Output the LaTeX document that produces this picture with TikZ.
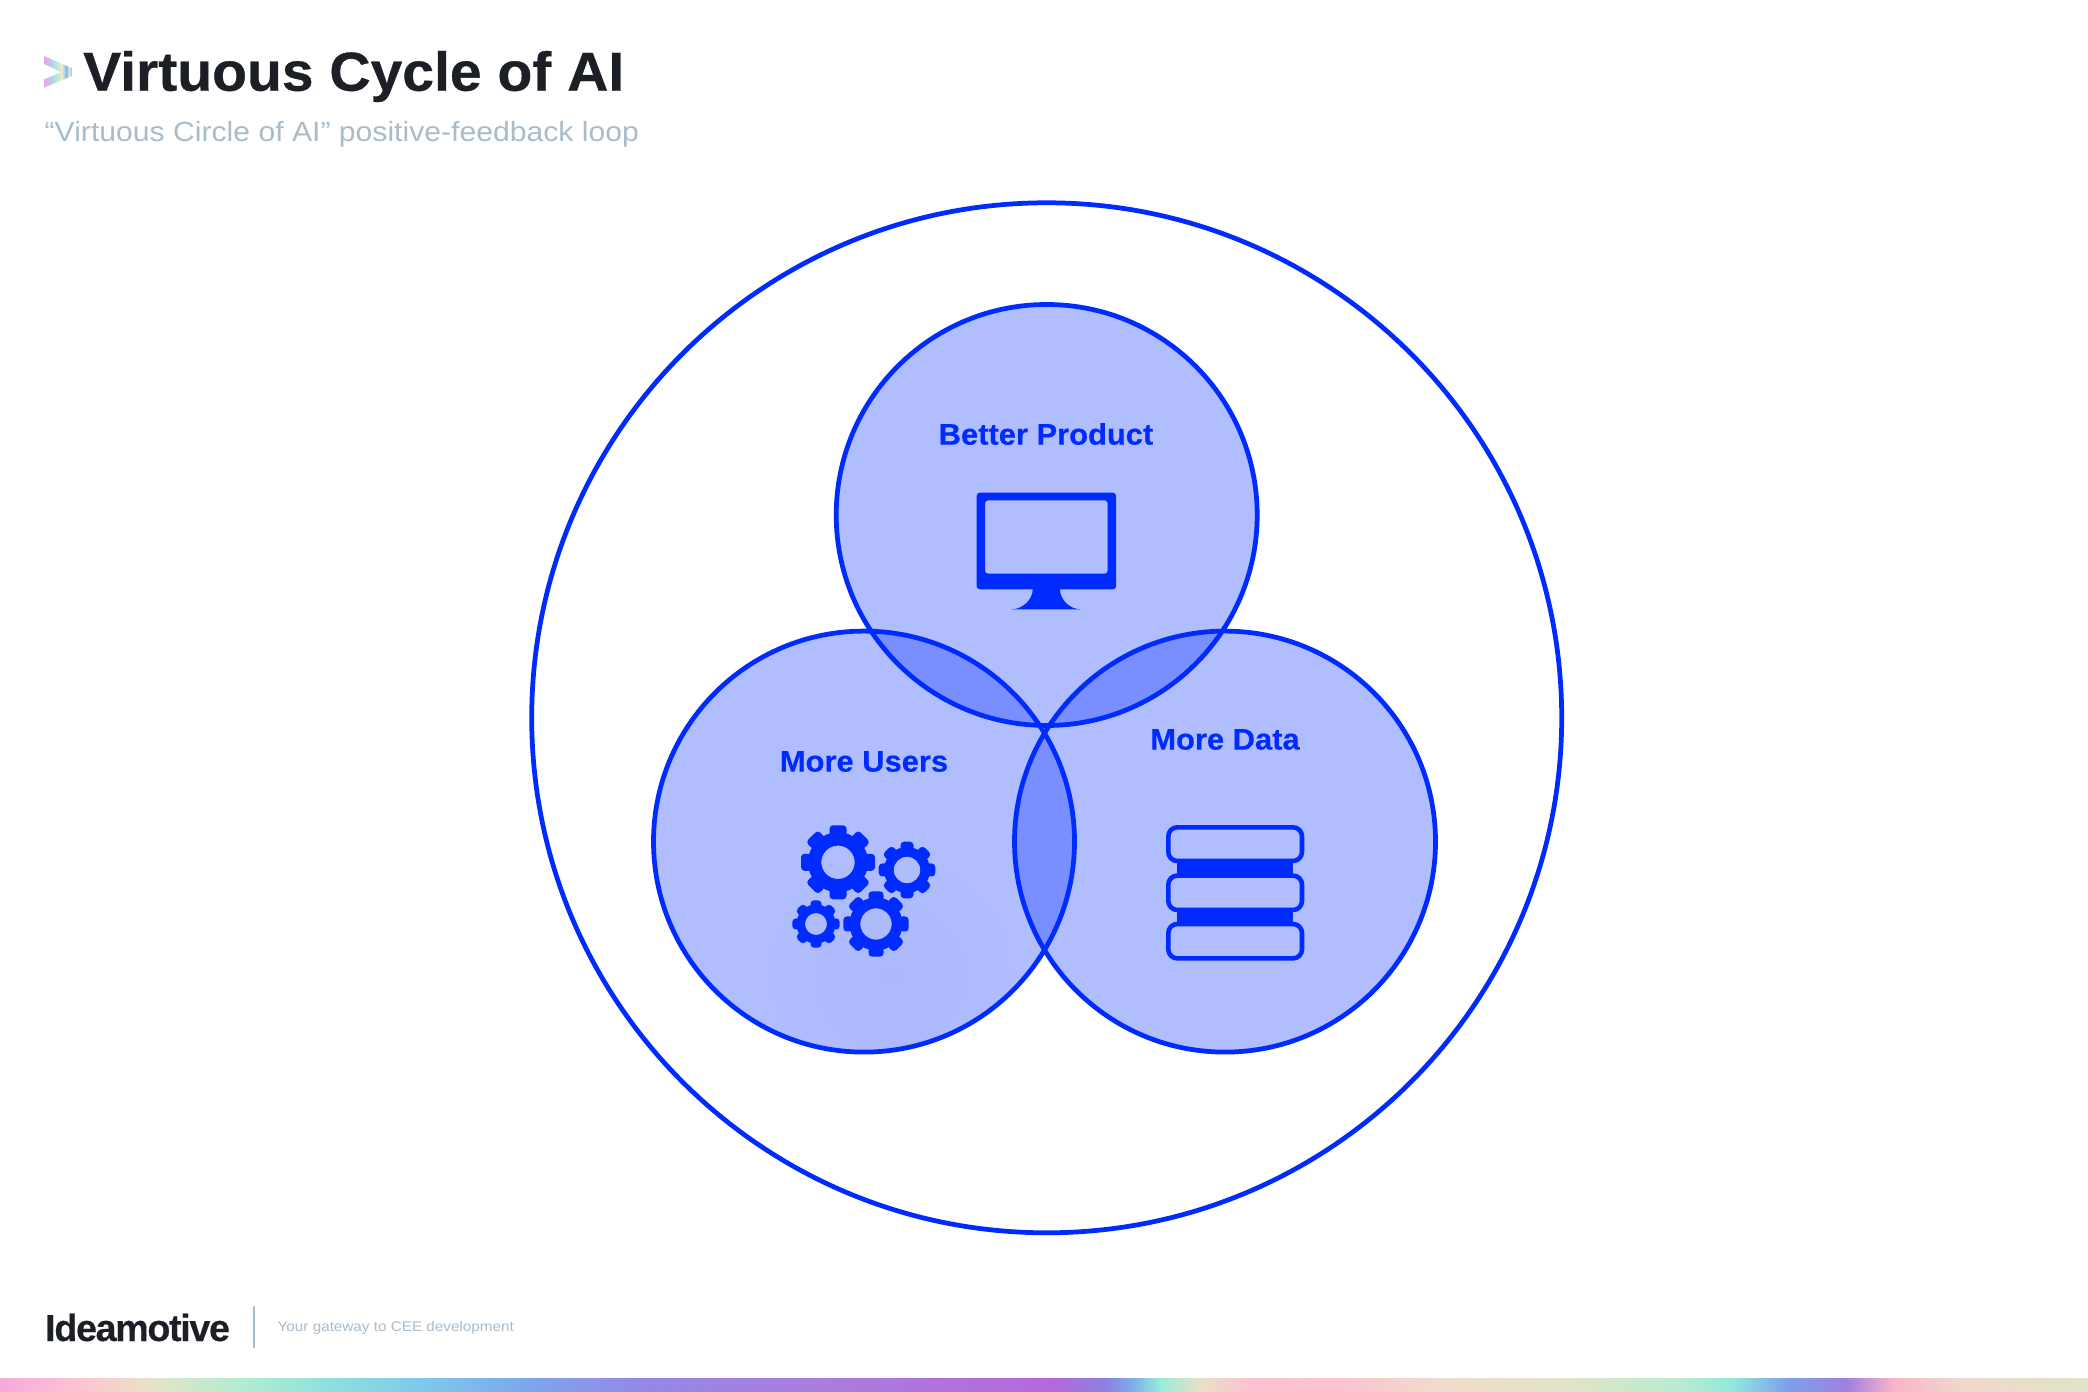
\documentclass[tikz,border=0pt]{standalone}
\usepackage{fontspec}
\usetikzlibrary{fadings}
\setmainfont{Liberation Sans}
\newfontfamily\titlefont[FakeStretch=1.04,FakeBold=0.6]{Liberation Sans Bold}
\newfontfamily\bodyfont[FakeStretch=1.085]{Liberation Sans}
\newfontfamily\labelfont[FakeStretch=1.04,FakeBold=0.4]{Liberation Sans Bold}
\newfontfamily\brandfont[LetterSpace=-3.5,FakeBold=0.4]{Liberation Sans Bold}
\definecolor{ringblue}{HTML}{002BFF}
\definecolor{inkdark}{HTML}{1C1F26}
\definecolor{mutedgray}{HTML}{A9BCCB}
\tikzfading[name=softspot, inner color=transparent!0, outer color=transparent!100]
\tikzset{
    circlefill/.style={fill=ringblue, fill opacity=0.31},
    circleline/.style={draw=ringblue, line width=1.35pt},
    circlelabel/.style={inner sep=0pt, text=ringblue, font=\labelfont\fontsize{8.45}{10}\selectfont},
    headertext/.style={inner sep=0pt, anchor=base west}
}
% one gear: x, y, outer radius, body radius, hole radius, tooth width
\newcommand{\gearicon}[6]{%
    \fill[ringblue, even odd rule] (#1,#2) circle (#4) (#1,#2) circle (#5);
    \foreach \a in {0,45,...,315} {
        \begin{scope}[shift={(#1,#2)}, rotate=\a]
            \fill[ringblue, rounded corners=0.035cm] (#4-4,-#6/2) rectangle (#3,#6/2);
        \end{scope}
    }
}

\begin{document}
\begin{tikzpicture}[x=0.01cm,y=-0.01cm]
    \useasboundingbox (0,0) rectangle (2088,1392);
    \fill[white] (0,0) rectangle (2088,1392);

    % Header
    \begin{scope}
        \clip (44,56) -- (72,68.3) -- (72,76) -- (44,87.7) -- (44,79.3) -- (61.7,72.3) -- (44,64) -- cycle;
        \foreach \xa/\xb/\ca/\cb in {44/50/E8A8EC/B8C8F0, 50/56/B8C8F0/B0ECDC, 56/62/B0ECDC/F0E8C8,
            62/66/F0E8C8/80B8EC, 66/69/80B8EC/D8ECD8, 69/72/D8ECD8/B8A8EC} {
            \definecolor{stripl}{HTML}{\ca}
            \definecolor{stripr}{HTML}{\cb}
            \shade[left color=stripl, right color=stripr] (\xa,50) rectangle (\xb+0.3,95);
        }
    \end{scope}
    \node[headertext, text=inkdark, font=\titlefont\fontsize{15.6}{18}\selectfont] (title) at (82.5,90.7) {Virtuous Cycle of AI};
    \node[headertext, text=mutedgray, font=\bodyfont\fontsize{7.9}{10}\selectfont] (subtitle) at (44,141.7) {“Virtuous Circle of AI” positive-feedback loop};

    % Big ring
    \draw[circleline] (1046.7,717.8) circle (515);

    % Three circles
    \foreach \cx/\cy in {1046.7/515, 864/841.6, 1225/841.6}
        \fill[circlefill] (\cx,\cy) circle (210.5);
    % soft shade below the gears
    \begin{scope}
        \clip (864,841.6) circle (210.5);
        \fill[black, opacity=0.025, path fading=softspot] (890,975) circle (130);
    \end{scope}
    \foreach \cx/\cy in {1046.7/515, 864/841.6, 1225/841.6}
        \draw[circleline] (\cx,\cy) circle (210.5);

    % Labels
    \node[circlelabel] (product) at (1046,434) {Better Product};
    \node[circlelabel] (users) at (864,761.5) {More Users};
    \node[circlelabel] (data) at (1225,739.5) {More Data};

    % Monitor
    \fill[ringblue, even odd rule, rounded corners=0.03cm] (976.7,492.7) rectangle (1116,589.3)
        (985,500.3) rectangle (1107.7,573.7);
    \fill[ringblue] (1032.7,585) -- (1032.7,589.3) .. controls (1032.7,600) and (1022,609.3) .. (1011.7,609.3)
        -- (1080.7,609.3) .. controls (1070,609.3) and (1060,600) .. (1060,589.3) -- (1060,585) -- cycle;

    % Gears
    \gearicon{838}{862.3}{37}{30}{16.7}{17}
    \gearicon{907}{870}{28.3}{23}{13.3}{13}
    \gearicon{816}{924}{23.7}{19.5}{11}{11}
    \gearicon{876}{924}{32.7}{26.5}{15.7}{15}

    % Database
    \fill[ringblue] (1177.3,859.3) rectangle (1292.7,877.7);
    \fill[ringblue] (1177.3,907.7) rectangle (1292.7,926);
    \foreach \ya/\yb in {827.3/861, 875.6/910, 924/958.4}
        \draw[ringblue, line width=1.3pt, rounded corners=0.09cm] (1168.3,\ya) rectangle (1302,\yb);

    % Footer
    \node[headertext, text=inkdark, font=\brandfont\fontsize{10.7}{12}\selectfont] (brand) at (44.5,1341) {Ideamotive};
    \coordinate (sepa) at (254,1306);
    \coordinate (sepb) at (254,1348);
    \draw[mutedgray, line width=0.55pt] (sepa) -- (sepb);
    \node[headertext, text=mutedgray, font=\bodyfont\fontsize{4.0}{6}\selectfont] (tagline) at (277,1331.5) {Your gateway to CEE development};

    % Rainbow strip
    \foreach \xa/\xb/\ca/\cb in {
        0/80/F7A9DC/FFC4D0, 80/147/FFC4D0/E8E2C8, 147/240/E8E2C8/B4ECD0, 240/320/B4ECD0/90E2DC,
        320/427/90E2DC/7CC8EC, 427/533/7CC8EC/7EA4EE, 533/640/7EA4EE/9488E8, 640/827/9488E8/AC7CE0,
        827/1053/AC7CE0/B468DC, 1053/1107/B468DC/8C80E4, 1107/1133/8C80E4/7CB0EC, 1133/1160/7CB0EC/98ECD8,
        1160/1200/98ECD8/E8E0C8, 1200/1253/E8E0C8/FFC0D0, 1253/1347/FFC0D0/FCC4D0, 1347/1440/FCC4D0/F0DCCC,
        1440/1573/F0DCCC/E0E4C8, 1573/1680/E0E4C8/B8ECD0, 1680/1733/B8ECD0/90E8DC, 1733/1787/90E8DC/7CA0EE,
        1787/1847/7CA0EE/A080E0, 1847/1893/A080E0/FCB4C8, 1893/1960/FCB4C8/F0D8CC, 1960/2088/F0D8CC/E0E4C8} {
        \definecolor{stripl}{HTML}{\ca}
        \definecolor{stripr}{HTML}{\cb}
        \shade[left color=stripl, right color=stripr] (\xa,1378) rectangle (\xb+0.5,1392);
    }
\end{tikzpicture}
\end{document}
